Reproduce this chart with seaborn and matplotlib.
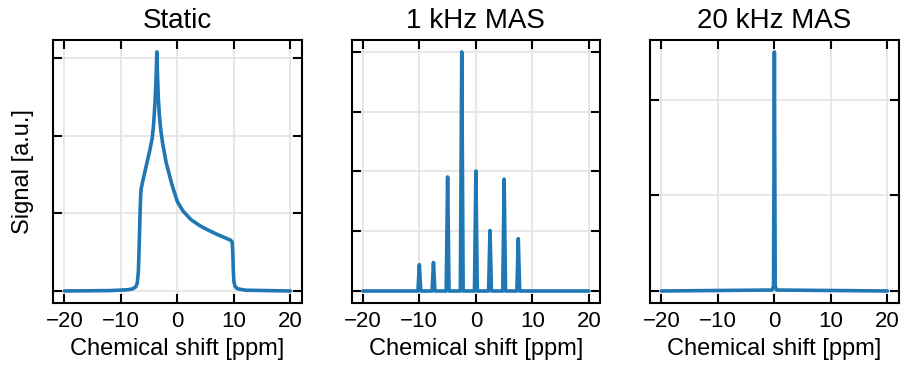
import numpy as np
import pandas as pd
import matplotlib
matplotlib.use("Agg")
import matplotlib.pyplot as plt
import seaborn as sns

# ---------------- data ----------------
titles = ["Static", "1 kHz MAS", "20 kHz MAS"]
x_ticks = [-20, -10, 0, 10, 20]

# Static powder pattern (ppm, signal)
static_x = [-20, -12, -9, -8, -7.4, -7.1, -6.9, -6.75, -6.6, -6.5, -6.4, -6.2,
            -5.7, -5.2, -4.8, -4.45, -4.2, -4.0, -3.85, -3.72, -3.63, -3.52,
            -3.38, -3.2, -2.95, -2.6, -2.0, -1.0, 0.0, 1.0, 2.4, 4.0, 5.3, 7.0,
            8.3, 9.4, 9.7, 9.8, 9.9, 10.0, 10.2, 10.6, 12, 20]
static_y = [0.0, 0.005, 0.015, 0.025, 0.05, 0.1, 0.25, 0.6, 1.0, 1.22, 1.32, 1.39,
            1.55, 1.71, 1.84, 1.97, 2.15, 2.38, 2.6, 2.85, 3.08, 2.8,
            2.5, 2.28, 2.08, 1.9, 1.66, 1.38, 1.15, 1.03, 0.92, 0.84, 0.79, 0.73,
            0.69, 0.655, 0.63, 0.5, 0.25, 0.12, 0.06, 0.03, 0.01, 0.0]

# 1 kHz MAS spinning sideband spectrum
mas1_x = [-20, -10.25, -10.0, -9.75, -7.75, -7.5, -7.25, -5.25, -5.0, -4.75,
          -2.75, -2.5, -2.25, -0.25, 0.0, 0.25, 2.25, 2.5, 2.75, 4.75, 5.0, 5.25,
          7.25, 7.5, 7.75, 20]
mas1_y = [0.0, 0.0, 0.11, 0.0, 0.0, 0.119, 0.0, 0.0, 0.477, 0.0,
          0.0, 1.0, 0.0, 0.0, 0.502, 0.0, 0.0, 0.253, 0.0, 0.0, 0.468, 0.0,
          0.0, 0.219, 0.0, 0.0]

# 20 kHz MAS spectrum
mas20_x = [-20, -0.4, -0.15, 0.0, 0.15, 0.4, 20]
mas20_y = [0.0, 0.01, 0.05, 2.5, 0.05, 0.01, 0.0]

y_ticks = [[0, 1, 2, 3], [0, 0.25, 0.5, 0.75, 1.0], [0, 1, 2]]

xlabel = "Chemical shift [ppm]"
ylabel = "Signal [a.u.]"

# ---------------- plotting ----------------
sns.set_theme(style="whitegrid")
plt.rcParams["font.family"] = ["Liberation Sans", "DejaVu Sans"]
plt.rcParams["text.color"] = "black"
plt.rcParams["axes.labelcolor"] = "black"
plt.rcParams["xtick.color"] = "black"
plt.rcParams["ytick.color"] = "black"

fig, axes = plt.subplots(1, 3, figsize=(9.06, 3.74), dpi=100)
fig.subplots_adjust(left=0.0585, right=0.992, top=0.893, bottom=0.19, wspace=0.2)

series = [(static_x, static_y), (mas1_x, mas1_y), (mas20_x, mas20_y)]
color = "#1f77b4"

for i, (ax, (xs, ys)) in enumerate(zip(axes, series)):
    df = pd.DataFrame({"x": xs, "y": ys})
    sns.lineplot(data=df, x="x", y="y", ax=ax, color=color, lw=2.6,
                 estimator=None, sort=False)
    ax.set_title(titles[i], fontsize=20, pad=9, color="black")
    ax.set_xticks(x_ticks)
    ax.set_xticklabels([f"\u2212{abs(t)}" if t < 0 else str(t) for t in x_ticks])
    ax.set_yticks(y_ticks[i])
    ax.set_yticklabels([])
    ax.set_xlabel(xlabel, fontsize=17, labelpad=4, color="black")
    ax.set_ylabel(ylabel if i == 0 else "", fontsize=17, labelpad=8, color="black")
    ax.grid(True, color="#e3e3e3", lw=1.2)
    for sp in ax.spines.values():
        sp.set_color("black")
        sp.set_linewidth(1.5)
    ax.tick_params(direction="in", top=True, right=True, bottom=True, left=True,
                   length=6.5, width=1.5, colors="black", labelcolor="black",
                   labelsize=16, pad=6)
    ax.set_facecolor("white")

fig.savefig("out.png", dpi=100, facecolor="white")
